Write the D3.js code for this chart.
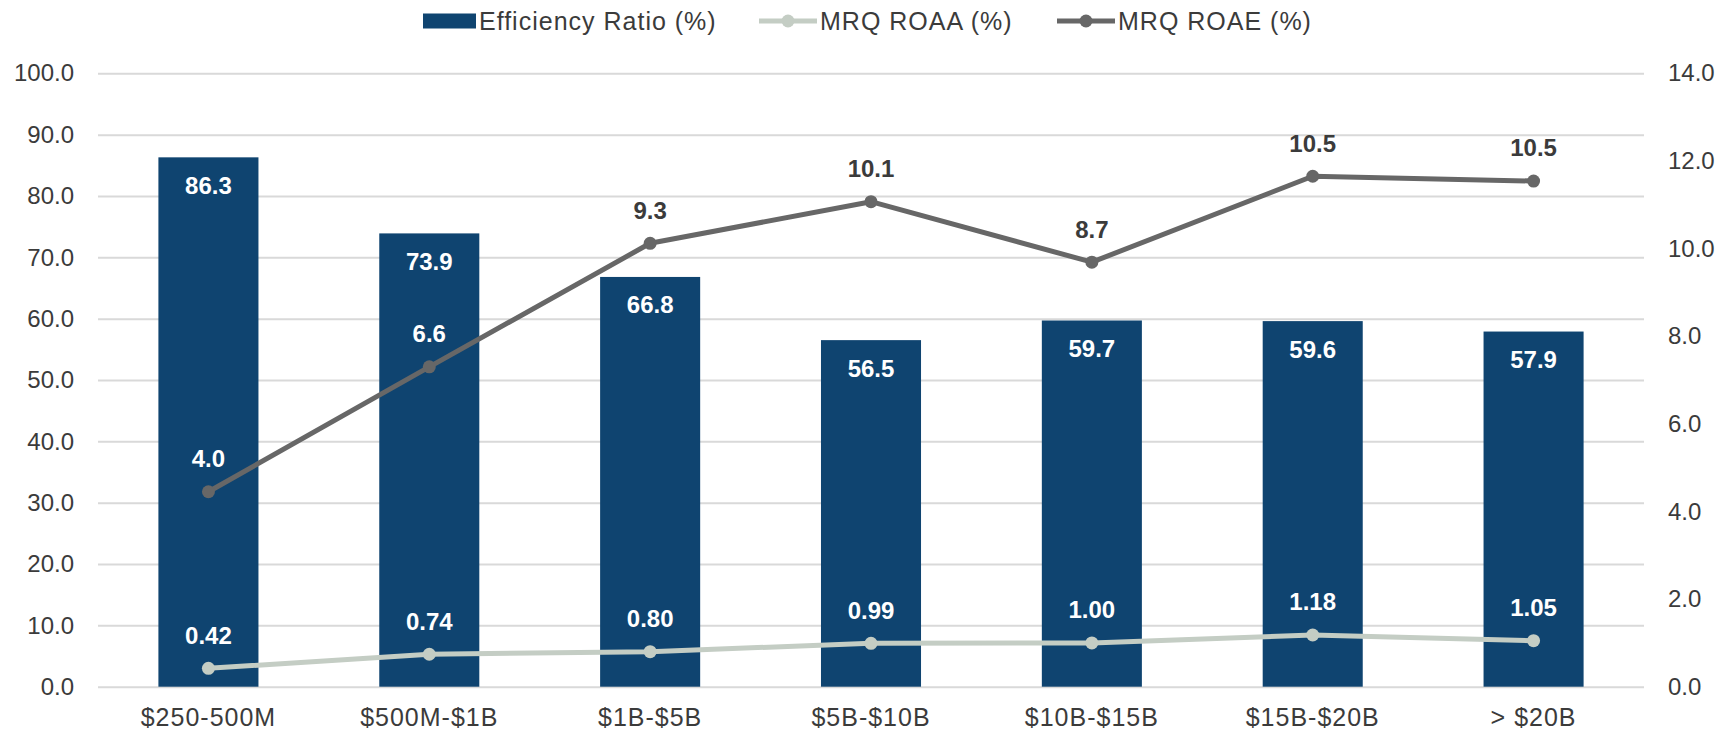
<!DOCTYPE html>
<html>
<head>
<meta charset="utf-8">
<script src="https://cdn.jsdelivr.net/npm/d3@7/dist/d3.min.js"></script>
<style>
  html, body { margin: 0; padding: 0; background: #ffffff; }
  svg { display: block; font-family: "Liberation Sans", Arial, sans-serif; }
</style>
</head>
<body>
<svg id="chart" width="1723" height="731"></svg>
<script>
// ---- data ----
const categories = ["$250-500M", "$500M-$1B", "$1B-$5B", "$5B-$10B", "$10B-$15B", "$15B-$20B", "> $20B"];
const efficiencyRatio = [86.3, 73.9, 66.8, 56.5, 59.7, 59.6, 57.9];
const roaa = [0.42, 0.74, 0.80, 0.99, 1.00, 1.18, 1.05];
const roaaLabels = ["0.42", "0.74", "0.80", "0.99", "1.00", "1.18", "1.05"];
// ROAE points as drawn against the right axis, and their printed labels
const roaePlotted = [4.45, 7.30, 10.12, 11.07, 9.69, 11.65, 11.54];
const roaeLabels = ["4.0", "6.6", "9.3", "10.1", "8.7", "10.5", "10.5"];
const leftTicks = [0, 10, 20, 30, 40, 50, 60, 70, 80, 90, 100];
const rightTicks = [0, 2, 4, 6, 8, 10, 12, 14];
const seriesNames = ["Efficiency Ratio (%)", "MRQ ROAA (%)", "MRQ ROAE (%)"];

// ---- layout ----
const plot = { left: 98, right: 1644, top: 73.3, bottom: 686.7 };
const barColor = "#0f4470";
const roaaColor = "#c4cdc4";
const roaeColor = "#676767";
const textColor = "#3b3b3b";
const FONT = "Liberation Sans, Arial, sans-serif";

const svg = d3.select("#chart");

const x = d3.scaleBand().domain(categories).range([plot.left, plot.right]).paddingInner(0.547).paddingOuter(0.2735);
const yL = d3.scaleLinear().domain([0, 100]).range([plot.bottom, plot.top]);
const yR = d3.scaleLinear().domain([0, 14]).range([plot.bottom, plot.top]);

// gridlines (left axis)
const gridAxis = d3.axisLeft(yL).tickValues(leftTicks).tickSize(-(plot.right - plot.left)).tickFormat("");
const grid = svg.append("g").attr("transform", `translate(${plot.left},0)`).call(gridAxis);
grid.select(".domain").remove();
grid.selectAll("line").attr("stroke", "#d9d9d9").attr("stroke-width", 2);

// left axis labels
const la = svg.append("g").attr("transform", `translate(${plot.left},0)`)
  .call(d3.axisLeft(yL).tickValues(leftTicks).tickFormat(d3.format(".1f")).tickSize(0).tickPadding(24));
la.select(".domain").remove();
la.selectAll("text").attr("fill", textColor).style("font-size", "24px").style("font-family", FONT);

// right axis labels
const ra = svg.append("g").attr("transform", `translate(${plot.right},0)`)
  .call(d3.axisRight(yR).tickValues(rightTicks).tickFormat(d3.format(".1f")).tickSize(0).tickPadding(24));
ra.select(".domain").remove();
ra.selectAll("text").attr("fill", textColor).style("font-size", "24px").style("font-family", FONT);

// x axis labels
const xa = svg.append("g").attr("transform", `translate(0,${plot.bottom})`)
  .call(d3.axisBottom(x).tickSize(0).tickPadding(22));
xa.select(".domain").remove();
xa.selectAll("text").attr("fill", textColor).style("font-size", "25px").style("letter-spacing", "1px").style("font-family", FONT);

// bars
svg.append("g").selectAll("rect").data(efficiencyRatio).join("rect")
  .attr("x", (d, i) => x(categories[i]))
  .attr("y", d => yL(d))
  .attr("width", x.bandwidth())
  .attr("height", d => yL(0) - yL(d))
  .attr("fill", barColor);

// bar labels
svg.append("g").selectAll("text").data(efficiencyRatio).join("text")
  .attr("x", (d, i) => x(categories[i]) + x.bandwidth() / 2)
  .attr("y", d => yL(d) + 28)
  .attr("dy", "0.35em")
  .attr("text-anchor", "middle")
  .attr("fill", "#ffffff")
  .style("font-size", "24px").style("font-weight", "bold")
  .text(d => d3.format(".1f")(d));

const cx = i => x(categories[i]) + x.bandwidth() / 2;

function drawLine(values, labels, color, labelColorFn) {
  const line = d3.line().x((d, i) => cx(i)).y(d => yR(d));
  svg.append("path").datum(values).attr("d", line)
    .attr("fill", "none").attr("stroke", color).attr("stroke-width", 5).attr("stroke-linejoin", "round");
  svg.append("g").selectAll("circle").data(values).join("circle")
    .attr("cx", (d, i) => cx(i)).attr("cy", d => yR(d)).attr("r", 6.5).attr("fill", color);
  svg.append("g").selectAll("text").data(values).join("text")
    .attr("x", (d, i) => cx(i))
    .attr("y", d => yR(d) - 33)
    .attr("dy", "0.35em")
    .attr("text-anchor", "middle")
    .attr("fill", (d, i) => labelColorFn(d, i))
    .style("font-size", "24px").style("font-weight", "bold")
    .text((d, i) => labels[i]);
}

drawLine(roaa, roaaLabels, roaaColor, () => "#ffffff");
// ROAE labels: white when over a bar, dark otherwise
drawLine(roaePlotted, roaeLabels, roaeColor, (d, i) => (yR(d) - 33 > yL(efficiencyRatio[i]) ? "#ffffff" : "#3b3b3b"));

// legend
const leg = svg.append("g");
const ly = 21;
const legStyle = sel => sel.attr("fill", textColor).style("font-size", "25px").style("letter-spacing", "1px").style("font-family", FONT);
leg.append("rect").attr("x", 423).attr("y", ly - 7.5).attr("width", 53).attr("height", 15).attr("fill", barColor);
leg.append("text").attr("x", 479).attr("y", ly).attr("dy", "0.35em").call(legStyle).text(seriesNames[0]);

leg.append("line").attr("x1", 759).attr("x2", 817).attr("y1", ly).attr("y2", ly).attr("stroke", roaaColor).attr("stroke-width", 5);
leg.append("circle").attr("cx", 788).attr("cy", ly).attr("r", 6.5).attr("fill", roaaColor);
leg.append("text").attr("x", 820).attr("y", ly).attr("dy", "0.35em").call(legStyle).text(seriesNames[1]);

leg.append("line").attr("x1", 1057).attr("x2", 1115).attr("y1", ly).attr("y2", ly).attr("stroke", roaeColor).attr("stroke-width", 5);
leg.append("circle").attr("cx", 1086).attr("cy", ly).attr("r", 6.5).attr("fill", roaeColor);
leg.append("text").attr("x", 1118).attr("y", ly).attr("dy", "0.35em").call(legStyle).text(seriesNames[2]);
</script>
</body>
</html>
